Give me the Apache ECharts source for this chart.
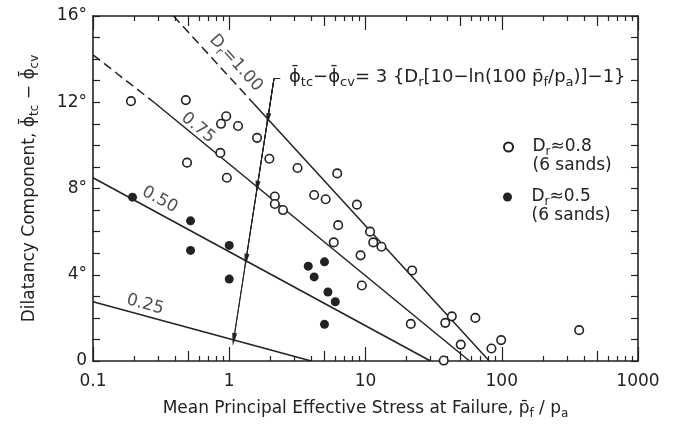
<!DOCTYPE html>
<html>
<head>
<meta charset="utf-8">
<script src="https://cdn.jsdelivr.net/npm/echarts@6/dist/echarts.min.js"></script>
<style>
  html, body { margin: 0; padding: 0; background: #fff; }
  #chart { width: 678px; height: 439px; }
</style>
</head>
<body>
<div id="chart"></div>
<script>
// Dilatancy component vs. mean effective stress at failure (Bolton-type relation)

// Dense sands, Dr ≈ 0.8 : [p'f/pa, φtc − φcv (deg)]
const denseSands = [
  [0.19, 12.05], [0.48, 12.1], [0.95, 11.35], [0.87, 11.0], [1.16, 10.9],
  [1.6, 10.35], [0.86, 9.65], [0.49, 9.2], [1.97, 9.38], [0.96, 8.5],
  [3.17, 8.95], [6.2, 8.7], [2.16, 7.63], [2.16, 7.28], [2.48, 7.0],
  [4.2, 7.7], [5.1, 7.5], [8.65, 7.25], [6.3, 6.3], [5.85, 5.5],
  [10.8, 6.0], [11.4, 5.5], [13.1, 5.3], [9.2, 4.9], [9.4, 3.5],
  [22, 4.2], [43, 2.07], [38.5, 1.77], [21.5, 1.72], [64, 2.0],
  [50, 0.76], [84, 0.58], [99, 0.97], [37.5, 0.02], [370, 1.43]
];

// Medium-dense sands, Dr ≈ 0.5
const mediumSands = [
  [0.195, 7.6], [0.52, 6.5], [0.52, 5.13], [1.0, 5.36], [1.0, 3.8],
  [3.8, 4.4], [5.0, 4.6], [4.2, 3.9], [5.3, 3.2], [6.0, 2.75], [5.0, 1.7]
];

// Relative-density lines (straight on the log axis), end points
const dr100Dashed = [[0.39, 16], [1.48, 12]];
const dr100Solid  = [[1.48, 12], [81, 0]];
const dr075Dashed = [[0.1, 14.2], [0.28, 12]];
const dr075Solid  = [[0.28, 12], [58, 0]];
const dr050       = [[0.1, 8.5], [30, 0]];
const dr025       = [[0.1, 2.75], [4.0, 0]];

// Pointer from the equation to the curves
const pointerHook  = [2.37, 13.1];
const pointerStart = [2.13, 13.1];
const pointerTips  = [[1.917, 11.2], [1.60, 8.05], [1.326, 4.67], [1.078, 0.99]];

// Axis ticks and labels
const xTickLabels   = [0.1, 1, 10, 100, 1000];
const xDecadeTicks  = [0.1, 1, 10, 100, 1000];
const xHalfTicks    = [0.5, 5, 50, 500];
const xMinorTicks   = [0.2, 0.3, 0.4, 0.6, 0.7, 0.8, 0.9,
                       2, 3, 4, 6, 7, 8, 9,
                       20, 30, 40, 60, 70, 80, 90,
                       200, 300, 400, 600, 700, 800, 900];
const yTickLabels   = [0, 4, 8, 12, 16];

const FONT = '"DejaVu Sans", sans-serif';
const INK = '#222';

const richStyles = {
  t: { fontSize: 17, lineHeight: 22, color: INK, fontFamily: FONT },
  p: { fontSize: 17, lineHeight: 22, color: INK, fontFamily: FONT },
  s: { fontSize: 12, lineHeight: 12, verticalAlign: 'bottom', color: INK, fontFamily: FONT },
  b: { fontSize: 17, lineHeight: 22, color: INK, fontFamily: FONT },
  e: { fontSize: 10, lineHeight: 16, color: INK, fontFamily: FONT },
  u: { fontSize: 17, lineHeight: 16, color: INK, fontFamily: FONT }
};

// Slightly larger lettering for the equation
const eqStyles = {
  t: { fontSize: 18, lineHeight: 24, color: INK, fontFamily: FONT },
  p: { fontSize: 18, lineHeight: 24, color: INK, fontFamily: FONT },
  s: { fontSize: 13, lineHeight: 13, verticalAlign: 'bottom', color: INK, fontFamily: FONT },
  b: { fontSize: 18, lineHeight: 24, color: INK, fontFamily: FONT }
};

function xLayer(position, ticks, len, withLabels, withLine) {
  const ax = {
    type: 'log', logBase: 10, min: 0.1, max: 1000, position: position,
    axisLine: { show: withLine, onZero: false, lineStyle: { color: INK, width: 1.6 } },
    axisTick: { show: true, inside: true, length: len, customValues: ticks,
                lineStyle: { color: INK, width: 1.2 } },
    axisLabel: { show: false },
    splitLine: { show: false },
    minorTick: { show: false }
  };
  if (withLabels) {
    ax.axisLabel = {
      show: true, customValues: xTickLabels, margin: 12,
      color: INK, fontSize: 17, fontFamily: FONT,
      formatter: v => String(v)
    };
    ax.name = '{t|Mean Principal Effective Stress at Failure, }{t|p\u0304}{s|f}{t| / p}{s|a}';
    ax.nameLocation = 'middle';
    ax.nameGap = 37;
    ax.nameMoveOverlap = false;
    ax.nameTextStyle = { rich: richStyles, color: INK, fontFamily: FONT, fontSize: 17 };
  }
  return ax;
}

function yLayer(position, withLabels) {
  const ax = {
    type: 'value', min: 0, max: 16, interval: 1, position: position,
    axisLine: { show: true, onZero: false, lineStyle: { color: INK, width: 1.6 } },
    axisTick: { show: true, inside: true, length: 7, lineStyle: { color: INK, width: 1.2 } },
    axisLabel: { show: false },
    splitLine: { show: false }
  };
  if (withLabels) {
    ax.axisLabel = {
      show: true, margin: 6, color: INK, fontSize: 17, fontFamily: FONT,
      formatter: v => yTickLabels.includes(v) ? (v === 0 ? '0' : v + '\u00b0') : ''
    };
    ax.name = '{t|Dilatancy Component, }{p|\u03d5\u0304}{s|tc}{t| \u2212 }{p|\u03d5\u0304}{s|cv}';
    ax.nameLocation = 'middle';
    ax.nameRotate = 90;
    ax.nameGap = 52;
    ax.nameMoveOverlap = false;
    ax.nameTextStyle = { rich: richStyles, color: INK, fontFamily: FONT, fontSize: 17 };
  }
  return ax;
}

function lineSeries(data, dashed) {
  return {
    type: 'line', data: data, symbol: 'none', silent: true, z: 2,
    lineStyle: { color: INK, width: 1.5, type: dashed ? [9, 5] : 'solid' }
  };
}

// Rotated curve labels, anchored in data coordinates
const curveLabels = [
  { at: [1.117, 13.82], text: '{t|D}{s|r}{t|=1.00}', rotate: -47.6 },
  { at: [0.59, 10.81],  text: '{t|0.75}', rotate: -39.4 },
  { at: [0.309, 7.48],  text: '{t|0.50}', rotate: -28.7 },
  { at: [0.241, 2.62],  text: '{t|0.25}', rotate: -15.3 }
];

const legendText = {
  'Dr\u22480.8': '{e| }\n{t|D}{s|r}{t|\u22480.8}\n{u|(6 sands)}',
  'Dr\u22480.5': '{e| }\n{t|D}{s|r}{t|\u22480.5}\n{u|(6 sands)}'
};

function legendFor(name, top) {
  return {
    data: [name], orient: 'vertical', left: 503, top: top, padding: 0,
    itemWidth: 38, itemHeight: 9, icon: 'circle',
    formatter: n => legendText[n],
    textStyle: { color: INK, fontSize: 17, fontFamily: FONT, rich: richStyles },
    selectedMode: false
  };
}

const chart = echarts.init(document.getElementById('chart'), null, { renderer: 'canvas' });

chart.setOption({
  animation: false,
  backgroundColor: '#fff',
  grid: { left: 93, right: 40, top: 16, bottom: 78, containLabel: false, outerBoundsMode: 'none' },
  xAxis: [
    xLayer('bottom', xDecadeTicks, 14, true, true),
    xLayer('bottom', xHalfTicks, 10, false, false),
    xLayer('bottom', xMinorTicks, 5, false, false),
    xLayer('top', xDecadeTicks, 14, false, true),
    xLayer('top', xHalfTicks, 10, false, false),
    xLayer('top', xMinorTicks, 5, false, false)
  ],
  yAxis: [ yLayer('left', true), yLayer('right', false) ],
  legend: [ legendFor('Dr\u22480.8', 123), legendFor('Dr\u22480.5', 173) ],
  graphic: [{
    type: 'text', x: 289, y: 77, silent: true,
    style: {
      text: '{p|\u03d5\u0304}{s|tc}{t|\u2212}{p|\u03d5\u0304}{s|cv}{t|= 3 }{b|{}{t|D}{s|r}{t|[10\u2212ln(100 }{t|p\u0304}{s|f}{t|/p}{s|a}{t|)]\u22121}}',
      rich: eqStyles, fontSize: 18, fontFamily: FONT, fill: INK,
      align: 'left', verticalAlign: 'middle'
    }
  }],
  series: [
    lineSeries(dr100Dashed, true),
    lineSeries(dr100Solid, false),
    lineSeries(dr075Dashed, true),
    lineSeries(dr075Solid, false),
    lineSeries(dr050, false),
    lineSeries(dr025, false),
    {
      type: 'line', data: [pointerHook, pointerStart, pointerTips[pointerTips.length - 1]],
      symbol: 'none', silent: true, z: 3,
      lineStyle: { color: INK, width: 1 },
      markLine: {
        silent: true, symbol: ['none', 'triangle'], symbolSize: [5, 13],
        lineStyle: { color: INK, width: 1, type: 'solid' },
        label: { show: false },
        data: pointerTips.map(tip => [{ coord: pointerStart }, { coord: tip }])
      }
    },
    {
      name: 'Dr\u22480.8', type: 'scatter', data: denseSands, clip: false, z: 5,
      symbol: 'circle', symbolSize: 8.5,
      itemStyle: { color: '#fff', borderColor: INK, borderWidth: 1.6, opacity: 1 }
    },
    {
      name: 'Dr\u22480.5', type: 'scatter', data: mediumSands, clip: false, z: 5,
      symbol: 'circle', symbolSize: 9,
      itemStyle: { color: INK, borderColor: INK, borderWidth: 0, opacity: 1 }
    },
    {
      type: 'scatter', symbolSize: 0, silent: true, z: 6, clip: false,
      data: curveLabels.map(c => ({
        value: c.at,
        label: { formatter: c.text, rotate: c.rotate }
      })),
      label: { show: true, position: 'inside', color: INK, fontSize: 17, fontFamily: FONT, rich: richStyles }
    }
  ]
});
</script>
</body>
</html>
